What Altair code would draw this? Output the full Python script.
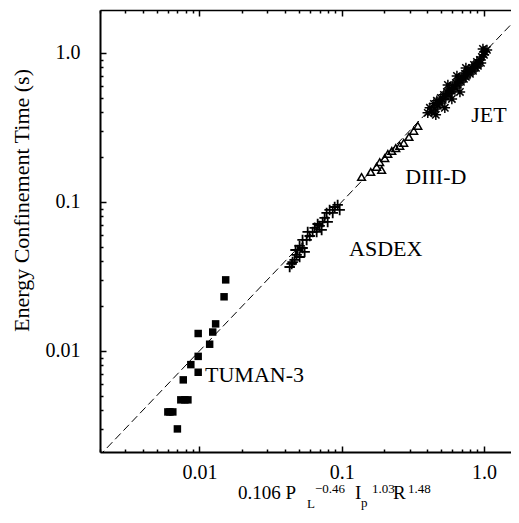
import altair as alt
import pandas as pd

# ---------------- data ----------------
tuman_x = [0.0153, 0.0149, 0.0130, 0.0124, 0.0098, 0.0118, 0.0098, 0.0087, 0.0098,
           0.0077, 0.0074, 0.0079, 0.0083, 0.0060, 0.0062, 0.0065, 0.0070]
tuman_y = [0.0300, 0.0231, 0.0152, 0.0134, 0.0131, 0.0111, 0.0092, 0.0081, 0.0072,
           0.0064, 0.0047, 0.0047, 0.0047, 0.0039, 0.0039, 0.0039, 0.0030]

asdex_x = [0.0431, 0.0445, 0.0452, 0.0467, 0.0474, 0.0482, 0.0490, 0.0506, 0.0506, 0.0531,
           0.0549, 0.0531, 0.0567, 0.0577, 0.0596, 0.0625, 0.0646, 0.0667, 0.0678, 0.0700,
           0.0723, 0.0735, 0.0759, 0.0784, 0.0797, 0.0823, 0.0865, 0.0893, 0.0937, 0.0968]
asdex_y = [0.0366, 0.0384, 0.0395, 0.0408, 0.0476, 0.0441, 0.0476, 0.0427, 0.0507, 0.0491,
           0.0462, 0.0556, 0.0556, 0.0629, 0.0591, 0.0629, 0.0670, 0.0629, 0.0711, 0.0690,
           0.0649, 0.0734, 0.0781, 0.0844, 0.0734, 0.0884, 0.0844, 0.0925, 0.0955, 0.0884]

diiid_x = [0.138, 0.160, 0.176, 0.185, 0.191, 0.201, 0.211, 0.225, 0.240, 0.256, 0.273, 0.297, 0.321, 0.343]
diiid_y = [0.147, 0.159, 0.172, 0.185, 0.164, 0.197, 0.210, 0.220, 0.230, 0.238, 0.249, 0.273, 0.300, 0.324]

jet_x = [0.403, 0.417, 0.430, 0.445, 0.452, 0.459, 0.467, 0.474, 0.490, 0.498,
         0.514, 0.523, 0.531, 0.540, 0.549, 0.558, 0.567, 0.576, 0.595, 0.595,
         0.605, 0.625, 0.635, 0.646, 0.656, 0.667, 0.678, 0.689, 0.700, 0.723,
         0.735, 0.747, 0.747, 0.772, 0.784, 0.797, 0.823, 0.837, 0.851, 0.879,
         0.893, 0.907, 0.937, 0.953, 0.968, 1.000, 1.016, 1.050, 0.984]
jet_y = [0.396, 0.428, 0.402, 0.455, 0.421, 0.384, 0.477, 0.441, 0.462, 0.499,
         0.484, 0.523, 0.428, 0.507, 0.547, 0.610, 0.531, 0.573, 0.556, 0.491,
         0.601, 0.582, 0.629, 0.701, 0.610, 0.659, 0.547, 0.639, 0.690, 0.669,
         0.723, 0.793, 0.690, 0.746, 0.769, 0.723, 0.793, 0.757, 0.831, 0.793,
         0.870, 0.818, 0.898, 0.857, 0.940, 0.970, 1.016, 1.047, 1.064]

label_text = ["TUMAN-3", "ASDEX", "DIII-D", "JET"]
label_x = [0.0244, 0.204, 0.459, 1.084]
label_y = [0.0069, 0.0484, 0.147, 0.384]

fit_line = [0.001, 3.0]

major_ticks = [0.01, 0.1, 1.0]
x_ticks = [0.002, 0.003, 0.004, 0.005, 0.006, 0.007, 0.008, 0.009, 0.01,
           0.02, 0.03, 0.04, 0.05, 0.06, 0.07, 0.08, 0.09, 0.1,
           0.2, 0.3, 0.4, 0.5, 0.6, 0.7, 0.8, 0.9, 1.0]
y_ticks = [0.003, 0.004, 0.005, 0.006, 0.007, 0.008, 0.009, 0.01,
           0.02, 0.03, 0.04, 0.05, 0.06, 0.07, 0.08, 0.09, 0.1,
           0.2, 0.3, 0.4, 0.5, 0.6, 0.7, 0.8, 0.9, 1.0]

X_DOMAIN = [0.002, 1.55]
Y_DOMAIN = [0.0021, 1.94]

# ---------------- layout ----------------
W, H = 411, 442
FONT = "Liberation Serif"
INK = "#000000"

xs = alt.Scale(type="log", domain=X_DOMAIN, nice=False)
ys = alt.Scale(type="log", domain=Y_DOMAIN, nice=False)

major_test = "abs(log(datum.value)/LN10 - round(log(datum.value)/LN10)) < 0.001"
tick_len = {"condition": {"test": major_test, "value": 6}, "value": 3}
lab_expr = "datum.value >= 0.99 ? '1.0' : format(datum.value, '~g')"

def df(xv, yv):
    return pd.DataFrame({"x": xv, "y": yv})

# points: TUMAN-3 carries the labelled axes
tuman = alt.Chart(df(tuman_x, tuman_y)).mark_square(
    size=56, color=INK, opacity=1, clip=True
).encode(
    x=alt.X("x:Q", scale=xs, title=None,
            axis=alt.Axis(orient="bottom", values=major_ticks, labelExpr=lab_expr,
                          ticks=False, tickSize=0, labelPadding=10, grid=False,
                          domainColor=INK, domainWidth=2, labelColor=INK,
                          labelFont=FONT, labelFontSize=20, labelFlush=False)),
    y=alt.Y("y:Q", scale=ys,
            title="Energy Confinement Time (s)",
            axis=alt.Axis(orient="left", values=major_ticks, labelExpr=lab_expr,
                          ticks=False, tickSize=0, labelPadding=20, grid=False,
                          domainColor=INK, domainWidth=2, labelColor=INK,
                          labelFont=FONT, labelFontSize=20, labelFlush=False,
                          titleFont=FONT, titleFontSize=22, titleFontWeight="normal",
                          titleColor=INK, titleX=-72, titleY=190, titleAngle=270,
                          titleAlign="center", titleBaseline="alphabetic")),
)

plus_path = "M-1,0H1M0,-1V1"
asdex = alt.Chart(df(asdex_x, asdex_y)).mark_point(
    shape=plus_path, size=110, strokeWidth=1.8, color=INK, opacity=1, clip=True
).encode(x=alt.X("x:Q", scale=xs, axis=None), y=alt.Y("y:Q", scale=ys, axis=None))

diiid = alt.Chart(df(diiid_x, diiid_y)).mark_point(
    shape="triangle-up", size=60, strokeWidth=1.5, color=INK, opacity=1, clip=True
).encode(x=alt.X("x:Q", scale=xs, axis=None), y=alt.Y("y:Q", scale=ys, axis=None))

star_path = "M-1,0H1M0,-1V1M-0.7,-0.7L0.7,0.7M-0.7,0.7L0.7,-0.7"
jet = alt.Chart(df(jet_x, jet_y)).mark_point(
    shape=star_path, size=110, strokeWidth=1.5, color=INK, opacity=1, clip=True
).encode(x=alt.X("x:Q", scale=xs, axis=None), y=alt.Y("y:Q", scale=ys, axis=None))

# dashed y = x line, carries inward ticks on bottom and left borders
line = alt.Chart(df(fit_line, fit_line)).mark_line(
    strokeDash=[8, 4], strokeWidth=1, color=INK, clip=True
).encode(
    x=alt.X("x:Q", scale=xs, title=None,
            axis=alt.Axis(orient="top", offset=-H, values=x_ticks, labels=False,
                          domain=False, grid=False, tickColor=INK, tickWidth=1.5,
                          tickSize=tick_len)),
    y=alt.Y("y:Q", scale=ys, title=None,
            axis=alt.Axis(orient="right", offset=-W, values=y_ticks, labels=False,
                          domain=False, grid=False, tickColor=INK, tickWidth=1.5,
                          tickSize=tick_len)),
)

# device labels, carry the top border with its inward ticks
labels = alt.Chart(pd.DataFrame({"t": label_text, "x": label_x, "y": label_y})).mark_text(
    font=FONT, fontSize=22, color=INK, align="center", baseline="middle"
).encode(
    x=alt.X("x:Q", scale=xs, title=None,
            axis=alt.Axis(orient="bottom", offset=-H, values=x_ticks, labels=False,
                          domain=True, domainColor=INK, domainWidth=1.5, grid=False,
                          tickColor=INK, tickWidth=1.5, tickSize=tick_len)),
    y=alt.Y("y:Q", scale=ys, axis=None),
    text="t:N",
)

# x-axis title with sub/superscripts
title_pieces = [
    ("0.106 P", 138, 489, 19),
    ("L", 207, 498, 13),
    ("\u22120.46", 215, 483, 13),
    ("I", 255, 489, 19),
    ("p", 261, 497, 13),
    ("1.03", 272, 483, 13),
    ("R", 293, 489, 19),
    ("1.48", 308, 483, 13),
]
title_layers = []
for txt, px, py, fs in title_pieces:
    title_layers.append(
        alt.Chart(pd.DataFrame({"t": [txt]})).mark_text(
            font=FONT, fontSize=fs, color=INK, align="left", baseline="alphabetic"
        ).encode(x=alt.value(px), y=alt.value(py), text="t:N")
    )

chart = alt.layer(tuman, asdex, diiid, jet, line, labels, *title_layers).resolve_axis(
    x="independent", y="independent"
).properties(
    width=W, height=H,
    autosize=alt.AutoSizeParams(type="none"),
    padding={"left": 92, "top": 2, "right": 0, "bottom": 58},
    background="white",
).configure_view(stroke=None)

chart.save("out.html", embed_options={"renderer": "svg", "actions": False})
